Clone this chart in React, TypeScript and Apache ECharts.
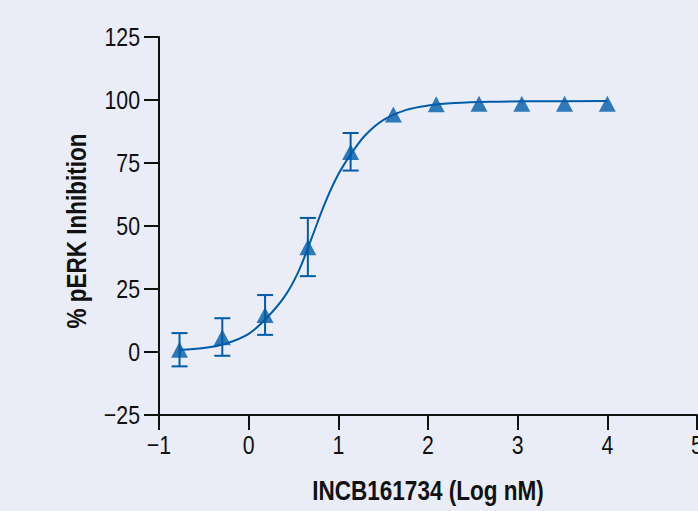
import React, { useEffect, useRef } from "react";
import * as echarts from "echarts";

// Measured data points (log nM concentration vs % inhibition)
const doseLog = [-0.771, -0.294, 0.183, 0.66, 1.137, 1.614, 2.092, 2.569, 3.046, 3.523, 4.0];
const meanInhibition = [0.9, 5.9, 14.7, 41.6, 79.4, 94.2, 98.3, 98.5, 98.5, 98.5, 98.5];
const errorLow = [-5.7, -1.5, 6.8, 30.1, 72.0, null, null, null, null, null, null];
const errorHigh = [7.5, 13.4, 22.6, 53.2, 86.9, null, null, null, null, null, null];

// Fitted curve
const curveX = [-0.77, -0.5, -0.25, 0, 0.2, 0.4, 0.55, 0.7, 0.85, 1.0, 1.15, 1.3, 1.5, 1.75, 2.0, 2.3, 2.7, 3.2, 4.0];
const curveY = [0.8, 1.6, 3.4, 7.2, 13.5, 22, 31.5, 45, 59, 70.5, 79, 86, 92, 96, 97.8, 98.8, 99.3, 99.5, 99.6];

// Tick labels
const xTicks = [-1, 0, 1, 2, 3, 4, 5];
const yTicks = [-25, 0, 25, 50, 75, 100, 125];

const xTitle = "INCB161734 (Log nM)";
const yTitle = "% pERK Inhibition";

const BLUE = "#005BAA";
const BG = "#EAEDF7";
const INK = "#111";
const FONT = "'Liberation Sans', Arial, sans-serif";
const NARROW = 0.82;

const fmt = (v: number) => (v < 0 ? "\u2212" + Math.abs(v) : String(v));

export default function App() {
  const ref = useRef<HTMLDivElement>(null);
  useEffect(() => {
    if (!ref.current) return;
    const chart = echarts.init(ref.current, undefined, { renderer: "svg" });
    const errData = doseLog
      .map((x, i) => [x, errorLow[i], errorHigh[i]])
      .filter((d) => d[1] != null && d[2] != null);
    const xMin = xTicks[0], xMax = xTicks[xTicks.length - 1];
    const yMin = yTicks[0], yMax = yTicks[yTicks.length - 1];
    chart.setOption({
      animation: false,
      backgroundColor: BG,
      grid: { left: 159, right: 1, top: 37, bottom: 96, containLabel: false },
      xAxis: {
        type: "value",
        min: xMin,
        max: xMax,
        interval: 1,
        axisLine: { onZero: false, lineStyle: { color: INK, width: 2 } },
        axisTick: { show: true, length: 15, lineStyle: { color: INK, width: 2 } },
        axisLabel: { show: false },
        splitLine: { show: false },
      },
      yAxis: {
        type: "value",
        min: yMin,
        max: yMax,
        interval: 25,
        axisLine: { onZero: false, lineStyle: { color: INK, width: 2 } },
        axisTick: { show: true, length: 15, lineStyle: { color: INK, width: 2 } },
        axisLabel: { show: false },
        splitLine: { show: false },
      },
      series: [
        {
          type: "line",
          data: curveX.map((x, i) => [x, curveY[i]]),
          smooth: 0.35,
          showSymbol: false,
          lineStyle: { color: BLUE, width: 2 },
          z: 2,
        },
        {
          type: "custom",
          data: errData,
          encode: { x: 0, y: [1, 2] },
          z: 3,
          renderItem: (params: any, api: any) => {
            const x = api.value(0);
            const pLo = api.coord([x, api.value(1)]);
            const pHi = api.coord([x, api.value(2)]);
            const hw = 8;
            const style = { stroke: BLUE, lineWidth: 2 };
            return {
              type: "group",
              children: [
                { type: "line", shape: { x1: pLo[0], y1: pLo[1], x2: pHi[0], y2: pHi[1] }, style },
                { type: "line", shape: { x1: pLo[0] - hw, y1: pLo[1], x2: pLo[0] + hw, y2: pLo[1] }, style },
                { type: "line", shape: { x1: pHi[0] - hw, y1: pHi[1], x2: pHi[0] + hw, y2: pHi[1] }, style },
              ],
            };
          },
        },
        {
          type: "scatter",
          data: doseLog.map((x, i) => [x, meanInhibition[i]]),
          symbol: "triangle",
          symbolSize: [17, 16],
          itemStyle: { color: BLUE },
          z: 4,
        },
      ],
    });

    // Condensed text labels placed through the chart's own scales
    const px = (x: number, y: number) => chart.convertToPixel({ gridIndex: 0 }, [x, y]) as number[];
    const graphics: any[] = [];
    xTicks.forEach((v) => {
      const p = px(v, yMin);
      graphics.push({
        type: "text",
        x: p[0],
        y: p[1] + 17,
        scaleX: NARROW,
        style: { text: fmt(v), font: `26px ${FONT}`, fill: INK, align: "center", verticalAlign: "top" },
      });
    });
    yTicks.forEach((v) => {
      const p = px(xMin, v);
      graphics.push({
        type: "text",
        x: p[0] - 19,
        y: p[1],
        scaleX: NARROW,
        style: { text: fmt(v), font: `26px ${FONT}`, fill: INK, align: "right", verticalAlign: "middle" },
      });
    });
    const pMidX = px((xMin + xMax) / 2, yMin);
    graphics.push({
      type: "text",
      x: pMidX[0],
      y: pMidX[1] + 75,
      scaleX: NARROW,
      style: { text: xTitle, font: `bold 27.5px ${FONT}`, fill: INK, align: "center", verticalAlign: "middle" },
    });
    const pMidY = px(xMin, (yMin + yMax) / 2);
    graphics.push({
      type: "text",
      x: pMidY[0] - 83,
      y: pMidY[1] + 5,
      rotation: Math.PI / 2,
      scaleX: NARROW,
      style: { text: yTitle, font: `bold 27.5px ${FONT}`, fill: INK, align: "center", verticalAlign: "middle" },
    });
    chart.setOption({ graphic: graphics });

    return () => chart.dispose();
  }, []);
  return (
    <div
      ref={ref}
      style={{ position: "fixed", left: 0, top: 0, width: 698, height: 511, background: BG }}
    />
  );
}
